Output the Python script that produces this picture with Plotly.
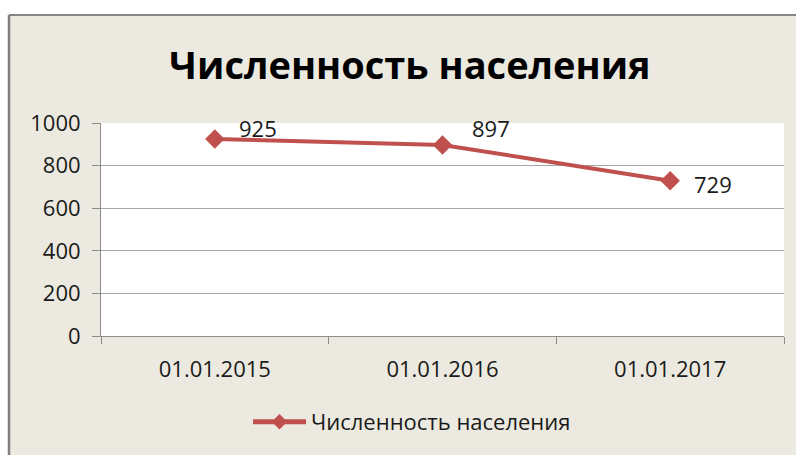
import plotly.graph_objects as go

# ---- data ----
categories = ["01.01.2015", "01.01.2016", "01.01.2017"]
population = [925, 897, 729]
series_name = "Численность населения"
title_text = "Численность населения"
y_ticks = [0, 200, 400, 600, 800, 1000]

# ---- layout constants (pixels) ----
W, H = 796, 455
L, R, T, B = 101, 12, 123, 119
PW, PH = W - L - R, H - T - B

def fx(p):
    return (p - L) / PW

def fy(p):
    return (H - B - p) / PH

BEIGE = "#ECEAE0"
RED = "#C0504D"
FONT = "Open Sans"

fig = go.Figure()
fig.add_trace(go.Scatter(
    x=categories, y=population, name=series_name,
    mode="lines+markers",
    line=dict(color=RED, width=4),
    marker=dict(symbol="diamond", size=15, color=RED),
    showlegend=True,
))

label_shifts = [(43, 11), (48, 17), (43, -3)]
annotations = []
for c, v, (dx, dy) in zip(categories, population, label_shifts):
    annotations.append(dict(
        x=c, y=v, xref="x", yref="y", text=str(v), showarrow=False,
        xshift=dx, yshift=dy, font=dict(family=FONT, size=22, color="#1a1a1a"),
    ))

shapes = [
    # white strips outside chart border
    dict(type="rect", xref="paper", yref="paper", x0=fx(-5), x1=fx(W + 5), y0=fy(15), y1=fy(-5),
         fillcolor="white", line=dict(width=0), layer="below"),
    dict(type="rect", xref="paper", yref="paper", x0=fx(-5), x1=fx(9), y0=fy(H + 5), y1=fy(-5),
         fillcolor="white", line=dict(width=0), layer="below"),
    # chart border
    dict(type="line", xref="paper", yref="paper", x0=fx(9), x1=fx(W + 5), y0=fy(15), y1=fy(15),
         line=dict(color="#868686", width=2), layer="below"),
    dict(type="line", xref="paper", yref="paper", x0=fx(9), x1=fx(9), y0=fy(15), y1=fy(H + 5),
         line=dict(color="#7F7F7F", width=2.5), layer="below"),
]

fig.update_layout(
    width=W, height=H,
    margin=dict(l=L, r=R, t=T, b=B, pad=0),
    paper_bgcolor=BEIGE, plot_bgcolor="white",
    title=dict(text="<b>" + title_text + "</b>", x=fx(410), xref="paper", xanchor="center",
               y=1 - 66 / H, yref="container", yanchor="middle",
               font=dict(family=FONT, size=38, color="black")),
    font=dict(family=FONT, size=22, color="#1a1a1a"),
    showlegend=True,
    legend=dict(orientation="h", x=fx(412), xanchor="center", y=fy(422), yanchor="middle",
                bgcolor="rgba(0,0,0,0)", font=dict(family=FONT, size=22, color="#1a1a1a"),
                itemwidth=53, itemsizing="constant"),
    xaxis=dict(type="category", range=[-0.5, 2.5], showgrid=False,
               showline=True, linecolor="#8C8C8C", linewidth=1,
               ticks="outside", tickson="boundaries", ticklen=7, tickcolor="#8C8C8C",
               tickfont=dict(family=FONT, size=22, color="#1a1a1a"), ticklabelstandoff=14),
    yaxis=dict(range=[0, 1000], tickvals=y_ticks, showgrid=True, gridcolor="#A6A6A6", gridwidth=1,
               zeroline=False, showline=True, linecolor="#8C8C8C", linewidth=1,
               ticks="outside", ticklen=8, tickcolor="#8C8C8C",
               tickfont=dict(family=FONT, size=22, color="#1a1a1a"), ticklabelstandoff=7),
    annotations=annotations,
    shapes=shapes,
)

fig.write_html("out.html", config={"displayModeBar": False},
               post_script="document.body.style.margin='0';document.body.style.overflow='hidden';")
